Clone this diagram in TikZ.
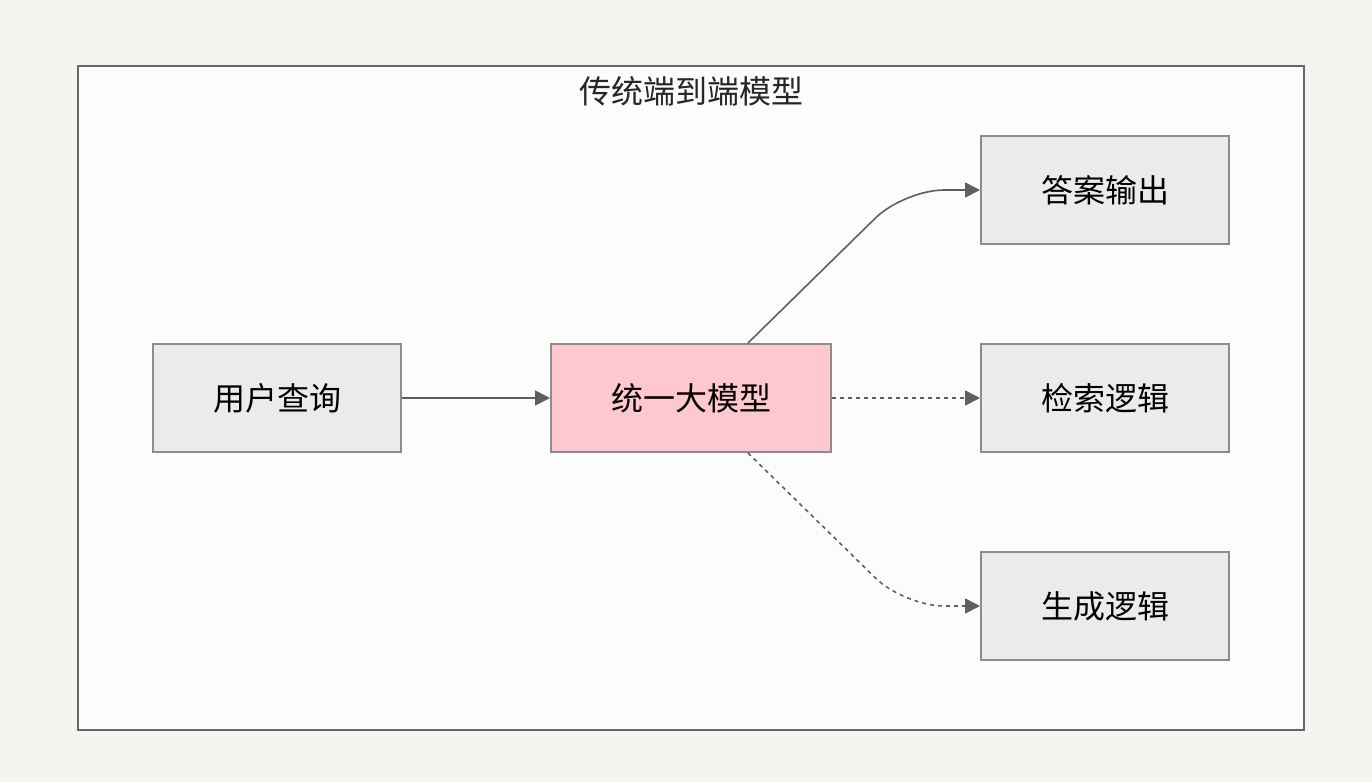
\documentclass[tikz,border=0pt]{standalone}
\usepackage{fontspec}
\newfontfamily\cjk{Noto Sans CJK SC}
\usetikzlibrary{arrows.meta,calc}
\definecolor{pagebg}{HTML}{F5F4F0}
\definecolor{panelbg}{HTML}{FCFCFC}
\definecolor{panelline}{HTML}{666666}
\definecolor{boxfill}{HTML}{EBEBEB}
\definecolor{boxline}{HTML}{8C8C8C}
\definecolor{pinkfill}{HTML}{FFC7CE}
\definecolor{arrowc}{HTML}{5F5F5F}
\tikzset{
  panel/.style={draw=panelline, fill=panelbg, line width=2pt},
  graybox/.style={draw=boxline, fill=boxfill, line width=2pt, minimum width=248pt, minimum height=108pt, inner sep=0pt, font=\cjk\fontsize{32}{38}\selectfont},
  pinkbox/.style={graybox, fill=pinkfill, minimum width=280pt},
  conn/.style={draw=arrowc, line width=1.6pt, -{Triangle[length=15pt,width=15pt]}},
  dconn/.style={conn, dash pattern=on 4pt off 4pt},
  titletext/.style={font=\cjk\fontsize{32}{38}\selectfont, text=black!85, inner sep=0pt}
}
\begin{document}
\begin{tikzpicture}[x=1pt,y=-1pt]
\fill[pagebg] (0,0) rectangle (1372,782);
\useasboundingbox (0,0) rectangle (1372,782);
\draw[panel] (78,66) rectangle (1304,730);
\node[titletext] (title) at (691,91) {传统端到端模型};
\node[graybox] (q) at (277,398) {用户查询};
\node[pinkbox] (m) at (691,398) {统一大模型};
\node[graybox] (a) at (1105,190) {答案输出};
\node[graybox] (r) at (1105,398) {检索逻辑};
\node[graybox] (g) at (1105,606) {生成逻辑};
\draw[conn] (q.east) -- (m.west);
\draw[conn, rounded corners=40pt] ($(m.north)+(57,0)$) -- ($(a.west)+(-76,0)$) -- (a.west);
\draw[dconn] (m.east) -- (r.west);
\draw[dconn, rounded corners=40pt] ($(m.south)+(57,0)$) -- ($(g.west)+(-76,0)$) -- (g.west);
\end{tikzpicture}
\end{document}
